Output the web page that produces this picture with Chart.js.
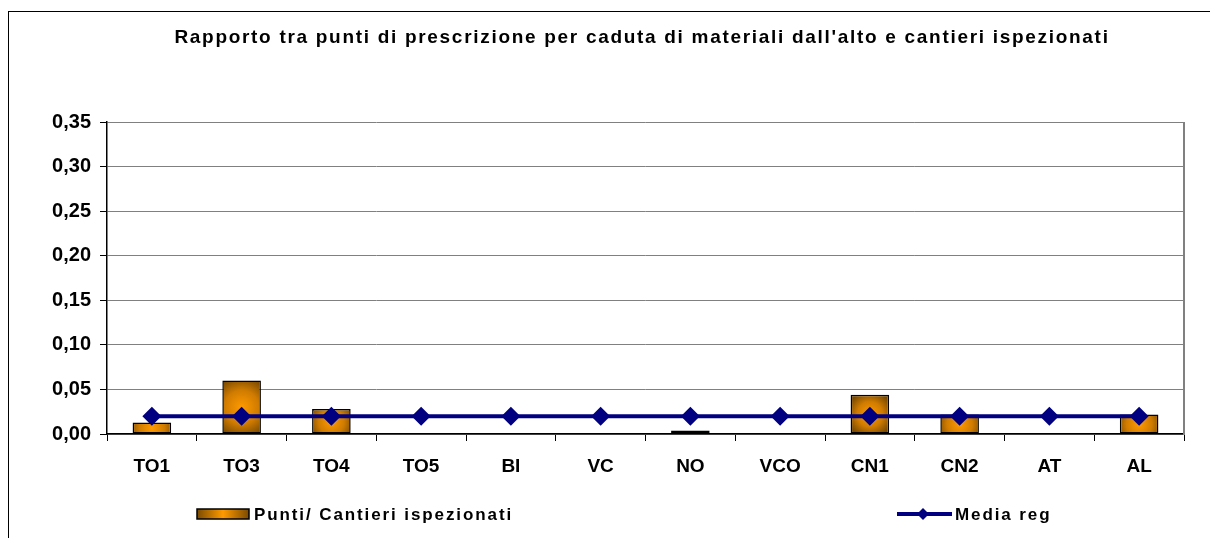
<!DOCTYPE html>
<html>
<head>
<meta charset="utf-8">
<script src="https://cdn.jsdelivr.net/npm/chart.js@4/dist/chart.umd.min.js"></script>
<style>
  html, body { margin: 0; padding: 0; background: #fff; overflow: hidden; }
  #frame { position: absolute; left: 8px; top: 11px; width: 1300px; height: 600px; border: 1px solid #000; }
  #wrap { position: absolute; left: 0; top: 0; width: 1210px; height: 538px; }
</style>
</head>
<body>
<div id="frame"></div>
<div id="wrap"><canvas id="chart"></canvas></div>
<script>
// dati
const categories = ['TO1', 'TO3', 'TO4', 'TO5', 'BI', 'VC', 'NO', 'VCO', 'CN1', 'CN2', 'AT', 'AL'];
const puntiCantieri = [0.013, 0.060, 0.028, 0, 0, 0, 0.004, 0, 0.044, 0.022, 0, 0.022];
const mediaReg = [0.02, 0.02, 0.02, 0.02, 0.02, 0.02, 0.02, 0.02, 0.02, 0.02, 0.02, 0.02];
const yTicks = [0, 0.05, 0.10, 0.15, 0.20, 0.25, 0.30, 0.35];
const titolo = "Rapporto tra punti di prescrizione per caduta di materiali dall'alto e cantieri ispezionati";

const FONT = "'Liberation Sans', Arial, sans-serif";

// gradiente arancione "dal centro" per ogni barra
function barGradient(c) {
  const chart = c.chart;
  if (!chart.chartArea || c.type !== 'data') return '#E08A00';
  const x = chart.scales.x.getPixelForValue(c.dataIndex);
  const yTop = chart.scales.y.getPixelForValue(c.raw || 0);
  const yBase = chart.scales.y.getPixelForValue(0);
  const cy = (yTop + yBase) / 2;
  const r = Math.max(20, (yBase - yTop) / 2) * 1.15;
  const g = chart.ctx.createRadialGradient(x, cy, 0, x, cy, r);
  g.addColorStop(0, '#FF9A00');
  g.addColorStop(0.55, '#D07C00');
  g.addColorStop(1, '#7A4A00');
  return g;
}

// titolo e legenda con spaziatura delle lettere come nell'originale, bordo destro grigio
const decorPlugin = {
  id: 'decorPlugin',
  beforeDatasetsDraw(chart) {
    const { ctx, chartArea } = chart;
    ctx.save();
    ctx.strokeStyle = '#808080';
    ctx.lineWidth = 2;
    ctx.beginPath();
    ctx.moveTo(chartArea.right, chartArea.top);
    ctx.lineTo(chartArea.right, chartArea.bottom + 1);
    ctx.stroke();
    ctx.restore();
  },
  afterDraw(chart) {
    const { ctx } = chart;
    ctx.save();
    ctx.fillStyle = '#000';
    ctx.textBaseline = 'middle';

    // titolo
    ctx.font = 'bold 19px ' + FONT;
    ctx.letterSpacing = '1.7px';
    ctx.textAlign = 'center';
    ctx.fillText(titolo, 642, 38);

    // legenda
    const ly = 514;
    ctx.font = 'bold 17px ' + FONT;
    ctx.letterSpacing = '1.9px';
    ctx.textAlign = 'left';

    let g = ctx.createLinearGradient(197, 0, 249, 0);
    g.addColorStop(0, '#7A4A00');
    g.addColorStop(0.5, '#FF9A00');
    g.addColorStop(1, '#7A4A00');
    ctx.fillStyle = g;
    ctx.fillRect(197, ly - 5, 52, 10);
    ctx.strokeStyle = '#000';
    ctx.lineWidth = 1.5;
    ctx.strokeRect(197, ly - 5, 52, 10);
    ctx.fillStyle = '#000';
    ctx.fillText(chart.data.datasets[1].label, 254, ly + 1);

    ctx.strokeStyle = '#000080';
    ctx.lineWidth = 4;
    ctx.beginPath();
    ctx.moveTo(897, ly);
    ctx.lineTo(952, ly);
    ctx.stroke();
    ctx.fillStyle = '#000080';
    ctx.beginPath();
    ctx.moveTo(917, ly);
    ctx.lineTo(923, ly - 6);
    ctx.lineTo(929, ly);
    ctx.lineTo(923, ly + 6);
    ctx.closePath();
    ctx.fill();
    ctx.fillStyle = '#000';
    ctx.fillText(chart.data.datasets[0].label, 955, ly + 1);
    ctx.restore();
  }
};

const ctx = document.getElementById('chart');
const chart = new Chart(ctx, {
  type: 'bar',
  data: {
    labels: categories,
    datasets: [{
      type: 'line',
      label: 'Media reg',
      data: mediaReg,
      borderColor: '#000080',
      backgroundColor: '#000080',
      borderWidth: 4,
      pointStyle: 'rectRot',
      pointRadius: 9.5,
      pointHoverRadius: 9.5,
      pointBackgroundColor: '#000080',
      pointBorderWidth: 0,
      order: 0
    }, {
      label: 'Punti/ Cantieri ispezionati',
      data: puntiCantieri,
      backgroundColor: barGradient,
      borderColor: '#000',
      borderWidth: 1.5,
      borderSkipped: false,
      barPercentage: 0.43,
      categoryPercentage: 1,
      order: 1
    }]
  },
  options: {
    responsive: true,
    maintainAspectRatio: false,
    animation: false,
    layout: { padding: { left: 0, right: 26, top: 122, bottom: 54 } },
    plugins: {
      title: { display: false },
      legend: { display: false },
      tooltip: { enabled: false }
    },
    scales: {
      x: {
        afterFit(scale) { scale.height = 50; },
        grid: {
          offset: true,
          drawOnChartArea: false,
          tickLength: 7,
          color: '#000',
          tickColor: '#000'
        },
        border: { color: '#000', width: 1.5 },
        ticks: {
          color: '#000',
          padding: 14,
          maxRotation: 0,
          font: { family: FONT, size: 19, weight: 'bold' }
        }
      },
      y: {
        min: 0,
        max: 0.35,
        afterFit(scale) { scale.width = 107; },
        afterBuildTicks(scale) {
          scale.ticks = yTicks.map(v => ({ value: v }));
        },
        grid: {
          color: '#808080',
          tickColor: '#000',
          tickLength: 7,
          lineWidth: 1
        },
        border: { color: '#000', width: 1.5 },
        ticks: {
          autoSkip: false,
          color: '#000',
          padding: 9,
          font: { family: FONT, size: 20, weight: 'bold' },
          callback: v => v.toFixed(2).replace('.', ',')
        }
      }
    }
  },
  plugins: [decorPlugin]
});
</script>
</body>
</html>
